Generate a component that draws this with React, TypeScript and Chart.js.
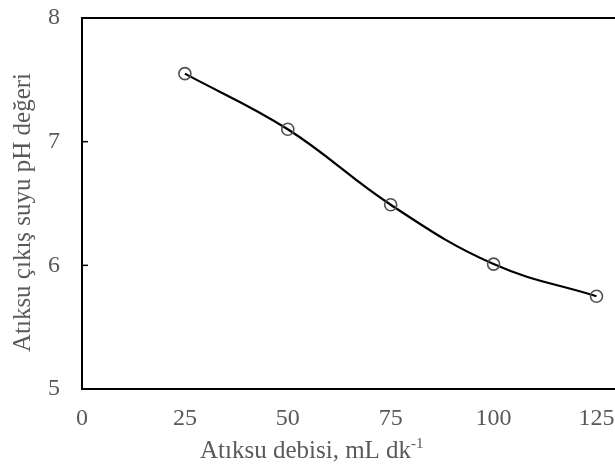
import React, { useEffect, useRef } from "react";
import { Chart, registerables } from "chart.js";

Chart.register(...registerables);

const flowRates = [25, 50, 75, 100, 125];
const phValues = [7.55, 7.1, 6.49, 6.01, 5.75];
const xTickStep = 25;
const yTickStep = 1;
const xTitle = "Atıksu debisi, mL dk";
const xTitleSup = "-1";
const yTitle = "Atıksu çıkış suyu pH değeri";

const FONT = '"Liberation Serif", "Times New Roman", serif';
const TEXT = "#595959";

const framePlugin = {
  id: "frame",
  afterDraw(chart: any) {
    const { ctx, chartArea, scales } = chart;
    ctx.save();
    ctx.strokeStyle = "#000";
    ctx.lineWidth = 2;
    ctx.beginPath();
    ctx.moveTo(chartArea.left - 1, chartArea.top);
    ctx.lineTo(chart.width, chartArea.top);
    ctx.stroke();
    ctx.lineWidth = 1.5;
    scales.y.ticks.forEach((t: any) => {
      const py = scales.y.getPixelForValue(t.value);
      ctx.beginPath();
      ctx.moveTo(chartArea.left, py);
      ctx.lineTo(chartArea.left + 6, py);
      ctx.stroke();
    });
    ctx.fillStyle = TEXT;
    ctx.textBaseline = "alphabetic";
    ctx.textAlign = "left";
    ctx.font = `25px ${FONT}`;
    const tx = chartArea.left + 118;
    const ty = chart.height - 9;
    ctx.fillText(xTitle, tx, ty);
    const w = ctx.measureText(xTitle).width;
    ctx.font = `15px ${FONT}`;
    ctx.fillText(xTitleSup, tx + w, ty - 10);
    ctx.font = `25px ${FONT}`;
    ctx.textAlign = "center";
    ctx.textBaseline = "middle";
    ctx.translate(23, (chartArea.top + chartArea.bottom) / 2 + 9);
    ctx.rotate(-Math.PI / 2);
    ctx.fillText(yTitle, 0, 0);
    ctx.restore();
  },
};

export default function App() {
  const ref = useRef<HTMLCanvasElement>(null);
  useEffect(() => {
    document.body.style.margin = "0";
    const chart = new Chart(ref.current!, {
      type: "line",
      data: {
        datasets: [
          {
            data: flowRates.map((x, i) => ({ x, y: phValues[i] })),
            borderColor: "#000",
            borderWidth: 2.2,
            tension: 0.4,
            pointRadius: 6,
            pointBorderColor: "#505050",
            pointBorderWidth: 1.6,
            pointBackgroundColor: "rgba(0,0,0,0)",
            fill: false,
            clip: false,
          },
        ],
      },
      options: {
        animation: false,
        responsive: false,
        layout: { autoPadding: false, padding: { top: 18, right: 0, left: 0, bottom: 0 } },
        plugins: { legend: { display: false }, tooltip: { enabled: false } },
        scales: {
          x: {
            type: "linear",
            min: 0,
            max: 129.5,
            afterFit: (s: any) => {
              s.height = 78;
              s.paddingRight = 0;
              s.paddingLeft = 0;
            },
            afterBuildTicks: (s: any) => {
              s.ticks = s.ticks.filter((t: any) => Math.abs(t.value % xTickStep) < 1e-6);
            },
            ticks: {
              stepSize: xTickStep,
              includeBounds: false,
              autoSkip: false,
              color: TEXT,
              font: { family: FONT, size: 24 },
              padding: 15,
              maxRotation: 0,
            },
            grid: { display: false, drawTicks: false },
            border: { display: true, color: "#000", width: 2 },
          },
          y: {
            min: 5,
            max: 8,
            afterFit: (s: any) => {
              s.width = 82;
              s.paddingTop = 0;
              s.paddingBottom = 0;
            },
            ticks: {
              stepSize: yTickStep,
              color: TEXT,
              font: { family: FONT, size: 24 },
              padding: 22,
            },
            grid: { display: false, drawTicks: false },
            border: { display: true, color: "#000", width: 2 },
          },
        },
      },
      plugins: [framePlugin],
    });
    return () => chart.destroy();
  }, []);
  return (
    <div style={{ width: 615, height: 467 }}>
      <canvas ref={ref} width={615} height={467} />
    </div>
  );
}
